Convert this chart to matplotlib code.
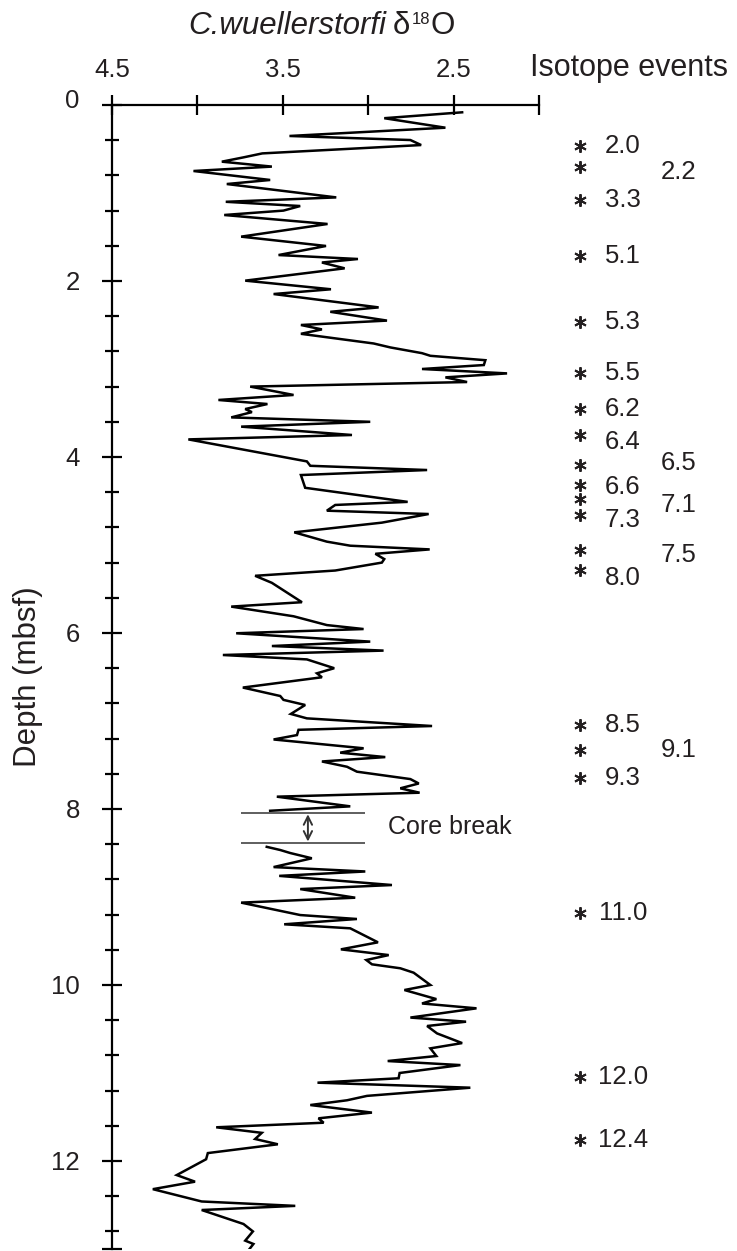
import numpy as np
import matplotlib
matplotlib.use('Agg')
import matplotlib.pyplot as plt
import matplotlib.transforms as mtransforms
from matplotlib.ticker import FixedLocator, MultipleLocator

plt.rcParams['font.family'] = ['Liberation Sans', 'DejaVu Sans']

# %% C. wuellerstorfi d18O record
d18o = [2.45, 2.906, 2.548, 3.461, 2.753, 2.69, 3.62, 3.73, 3.857, 3.564,
        4.023, 3.574, 3.828, 3.187, 3.834, 3.398, 3.496, 3.843, 3.238, 3.744,
        3.247, 3.525, 3.06, 3.271, 3.138, 3.72, 3.218, 3.554, 2.939, 3.222,
        2.89, 3.394, 3.271, 3.394, 2.968, 2.87, 2.685, 2.636, 2.314, 2.323,
        2.685, 2.187, 2.548, 2.421, 3.691, 3.437, 3.877, 3.59, 3.72, 3.681,
        3.802, 2.988, 3.744, 3.095, 4.053, 3.359, 3.339, 2.655, 3.394, 3.369,
        2.769, 3.193, 3.242, 2.646, 2.92, 3.433, 3.242, 3.105, 2.64, 2.958,
        2.906, 2.92, 3.193, 3.662, 3.564, 3.388, 3.802, 3.437, 3.242, 3.027,
        3.773, 2.988, 3.564, 2.91, 3.851, 3.359, 3.199, 3.30, 3.271, 3.734,
        3.515, 3.496, 3.369, 3.453, 3.359, 2.626, 3.408, 3.417, 3.554, 3.027,
        3.164, 2.90, 3.271, 3.124, 3.066, 2.753, 2.704, 2.812, 2.699, 3.535,
        3.105, 3.574,
        np.nan,
        3.594, 3.515, 3.457, 3.33, 3.554, 3.017, 3.521, 2.861, 3.398, 3.076,
        3.744, 3.398, 3.066, 3.492, 3.105, 3.05, 2.943, 3.16, 2.88, 3.011,
        2.978, 2.812, 2.734, 2.636, 2.788, 2.601, 2.685, 2.366, 2.753, 2.427,
        2.655, 2.597, 2.45, 2.636, 2.601, 2.886, 2.46, 2.816, 2.822, 3.297,
        2.402, 3.007, 3.124, 3.339, 2.978, 3.291, 3.261, 3.89, 3.623, 3.662,
        3.529, 3.939, 3.949, 4.121, 4.014, 4.261, 3.975, 3.427, 3.975, 3.73,
        3.675, 3.72, 3.672, 3.695]
depth = [0.083, 0.15, 0.258, 0.352, 0.398, 0.455, 0.55, 0.595, 0.644, 0.70,
         0.75, 0.852, 0.898, 1.05, 1.10, 1.148, 1.20, 1.25, 1.352, 1.496,
         1.602, 1.705, 1.75, 1.79, 1.856, 1.996, 2.094, 2.148, 2.30, 2.35,
         2.45, 2.50, 2.55, 2.60, 2.71, 2.755, 2.82, 2.85, 2.90, 2.955,
         3.0, 3.05, 3.095, 3.148, 3.20, 3.295, 3.352, 3.398, 3.455, 3.49,
         3.55, 3.60, 3.655, 3.75, 3.80, 4.05, 4.10, 4.148, 4.205, 4.35,
         4.51, 4.545, 4.61, 4.648, 4.746, 4.856, 4.962, 5.008, 5.05, 5.10,
         5.16, 5.2, 5.29, 5.35, 5.43, 5.65, 5.70, 5.81, 5.91, 5.955,
         6.003, 6.098, 6.148, 6.20, 6.25, 6.30, 6.40, 6.458, 6.503, 6.62,
         6.716, 6.76, 6.818, 6.92, 6.97, 7.057, 7.10, 7.16, 7.21, 7.31,
         7.36, 7.41, 7.46, 7.52, 7.576, 7.66, 7.71, 7.765, 7.815, 7.86,
         7.97, 8.02,
         8.2,
         8.43, 8.466, 8.50, 8.56, 8.66, 8.71, 8.76, 8.864, 8.91, 9.008,
         9.064, 9.205, 9.25, 9.31, 9.356, 9.41, 9.515, 9.595, 9.66, 9.716,
         9.765, 9.81, 9.86, 10.0, 10.057, 10.16, 10.21, 10.265, 10.37, 10.417,
         10.466, 10.55, 10.66, 10.72, 10.807, 10.864, 10.91, 11.0, 11.06, 11.11,
         11.167, 11.26, 11.31, 11.364, 11.45, 11.515, 11.565, 11.617, 11.68, 11.75,
         11.81, 11.91, 11.98, 12.16, 12.235, 12.32, 12.46, 12.51, 12.557, 12.716,
         12.80, 12.905, 12.943, 13.0]

# isotope events: label, depth of asterisk, depth of label
event_labels = ['2.0', '2.2', '3.3', '5.1', '5.3', '5.5', '6.2', '6.4', '6.5', '6.6',
                '7.1', '7.3', '7.5', '8.0', '8.5', '9.1', '9.3', '11.0', '12.0', '12.4']
event_star_depth = [0.466, 0.71, 1.08, 1.72, 2.47, 3.05, 3.45, 3.75, 4.09, 4.32,
                    4.48, 4.66, 5.06, 5.28, 7.05, 7.33, 7.65, 9.18, 11.05, 11.76]
event_label_depth = [0.466, 0.757, 1.08, 1.72, 2.47, 3.05, 3.45, 3.83, 4.07, 4.34,
                     4.55, 4.72, 5.11, 5.38, 7.05, 7.33, 7.65, 9.18, 11.05, 11.76]

# core break
break_top, break_bot = 8.04, 8.39
break_x = [3.744, 3.017]

xticks = [4.5, 4.0, 3.5, 3.0, 2.5, 2.0]
xticklabels = ['4.5', '', '3.5', '', '2.5', '']
yticks = [0, 2, 4, 6, 8, 10, 12, 13]
yticklabels = ['0', '2', '4', '6', '8', '10', '12', '']

# %%
W, H = 737, 1251
fig = plt.figure(figsize=(W / 100, H / 100), dpi=100)
x0, x1, y0, y1 = 112, 539, 105, 1249
ax = fig.add_axes([x0 / W, 1 - y1 / H, (x1 - x0) / W, (y1 - y0) / H])
txt = '#231f20'

ax.plot(d18o, depth, color='black', lw=1.8, solid_joinstyle='miter')

ax.set_xlim(4.5, 2.0)
ax.set_ylim(13, 0)
for s in ['right', 'bottom']:
    ax.spines[s].set_visible(False)
for s in ['left', 'top']:
    ax.spines[s].set_linewidth(1.6)

ax.xaxis.set_major_locator(FixedLocator(xticks))
ax.set_xticklabels(xticklabels)
ax.yaxis.set_major_locator(FixedLocator(yticks))
ax.set_yticklabels(yticklabels)
ax.yaxis.set_minor_locator(MultipleLocator(0.4))
ax.tick_params(axis='x', which='major', direction='inout', length=14.4, width=1.6,
               top=True, bottom=False, labeltop=True, labelbottom=False,
               pad=9.5, labelsize=18.5, labelcolor=txt)
ax.tick_params(axis='y', which='major', direction='inout', length=14.4, width=1.6,
               pad=16, labelsize=18.5, labelcolor=txt)
ax.tick_params(axis='y', which='minor', direction='inout', length=10, width=1.6)
# the "0" sits a little above its tick in the original
ax.get_yticklabels()[0].set_transform(
    ax.get_yticklabels()[0].get_transform()
    + mtransforms.ScaledTranslation(0, 6 / 100, fig.dpi_scale_trans))

# core break marks
ax.hlines([break_top, break_bot], break_x[0], break_x[1], color='#333333', lw=1.1)
ax.annotate('', xy=(3.353, break_top + 0.02), xytext=(3.353, break_bot - 0.02),
            arrowprops=dict(arrowstyle='<->', color='#333333', lw=1.4,
                            shrinkA=0, shrinkB=0, mutation_scale=15))
ax.text(2.882, 8.2, 'Core break', fontsize=18, color=txt, ha='left', va='center')

# isotope events
trans = mtransforms.blended_transform_factory(fig.transFigure, ax.transData)
ax.plot([580 / W] * len(event_star_depth), event_star_depth, linestyle='none',
        marker=(6, 2, 0), ms=9, mew=1.4, color=txt, transform=trans, clip_on=False)
second_col = ['2.2', '6.5', '7.1', '7.5', '9.1']
for lab, d in zip(event_labels, event_label_depth):
    xc = 679 if lab in second_col else 623
    ax.text(xc / W, d, lab, transform=trans, fontsize=18.5, color=txt,
            ha='center', va='center', clip_on=False)

# title built from pieces: italic species name, delta, small raised 18, O
r = fig.canvas.get_renderer()
base = 1 - 34 / H
t = fig.text(188 / W, base, 'C.wuellerstorfi', fontsize=22.5, style='italic',
             color=txt, ha='left', va='baseline')
xe = t.get_window_extent(r).x1 + 7
t = fig.text(xe / W, base, 'δ', fontsize=22.5, color=txt, ha='left', va='baseline')
xe = t.get_window_extent(r).x1 + 1
t = fig.text(xe / W, base + 10 / H, '18', fontsize=12, color=txt, ha='left', va='baseline')
xe = t.get_window_extent(r).x1 + 1
fig.text(xe / W, base, 'O', fontsize=22.5, color=txt, ha='left', va='baseline')

fig.text(530 / W, 1 - 76 / H, 'Isotope events', fontsize=22, color=txt,
         ha='left', va='baseline')
fig.text(28 / W, 1 - 677 / H, 'Depth (mbsf)', fontsize=22.5, color=txt,
         rotation=90, ha='center', va='center')

fig.savefig('out.png', dpi=100)
